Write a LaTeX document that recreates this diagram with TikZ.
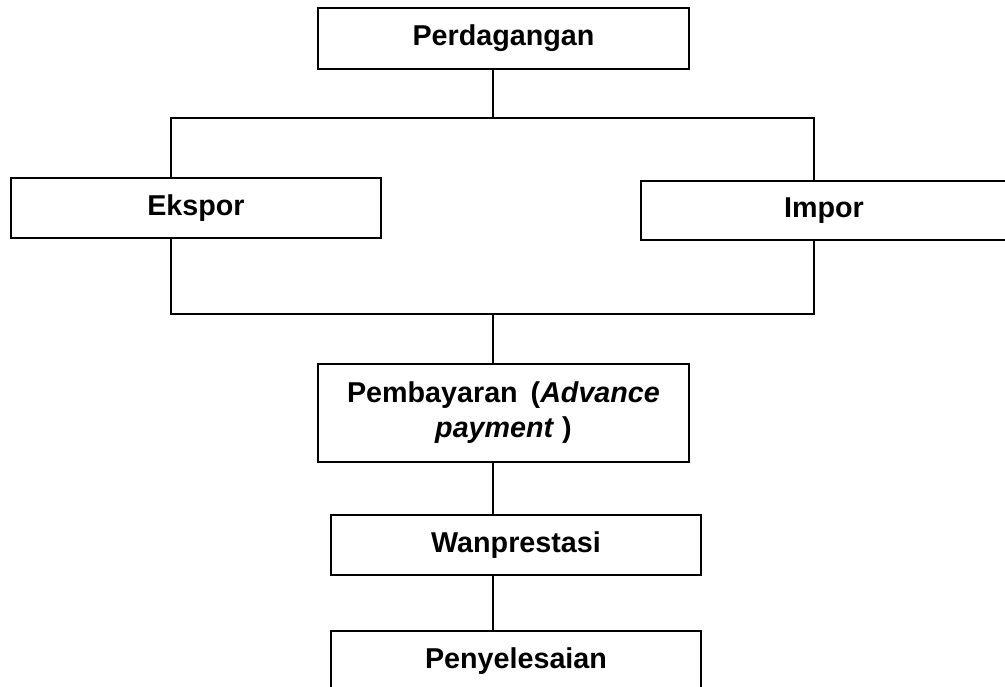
\documentclass[tikz,border=0pt]{standalone}
\usepackage{fontspec}
\setmainfont{Liberation Sans}
\begin{document}
\begin{tikzpicture}[x=1pt,y=-1pt,
  box/.style={draw,line width=2.2pt,inner sep=0pt,outer sep=0pt,
    font=\fontsize{28.7}{35}\selectfont\bfseries,
    text height=20.5pt,text depth=6pt},
  conn/.style={line width=1.7pt}]
\useasboundingbox (0,0) rectangle (1005,687);
\clip (0,0) rectangle (1005,687);
\node[box,minimum width=371pt,minimum height=61pt] (perd) at (503.5,38.5) {Perdagangan};
\node[box,minimum width=370pt,minimum height=60pt] (eks) at (196,208) {Ekspor};
\node[box,minimum width=366pt,minimum height=59pt] (imp) at (824,210.5) {Impor};
\node[box,minimum width=371pt,minimum height=98pt,align=center,text height=,text depth=] (pemb) at (503.5,413)
  {Pembayaran\hspace{0.45em}(\textit{Advance}\\\textit{payment} )};
\node[box,minimum width=370pt,minimum height=60pt] (wan) at (516,545) {Wanprestasi};
\node[box,minimum width=370pt,minimum height=60pt] (peny) at (516,661) {Penyelesaian};
\coordinate (tc) at (493,118);
\coordinate (tl) at (171,118);
\coordinate (tr) at (814,118);
\coordinate (bc) at (493,314);
\coordinate (bl) at (171,314);
\coordinate (br) at (814,314);
\draw[conn] (perd.south -| tc) -- (tc);
\draw[conn] (eks.north -| tl) -- (tl) -- (tr) -- (imp.north -| tr);
\draw[conn] (eks.south -| bl) -- (bl) -- (br) -- (imp.south -| br);
\draw[conn] (bc) -- (pemb.north -| bc);
\draw[conn] (pemb.south -| bc) -- (wan.north -| bc);
\draw[conn] (wan.south -| bc) -- (peny.north -| bc);
\end{tikzpicture}
\end{document}
